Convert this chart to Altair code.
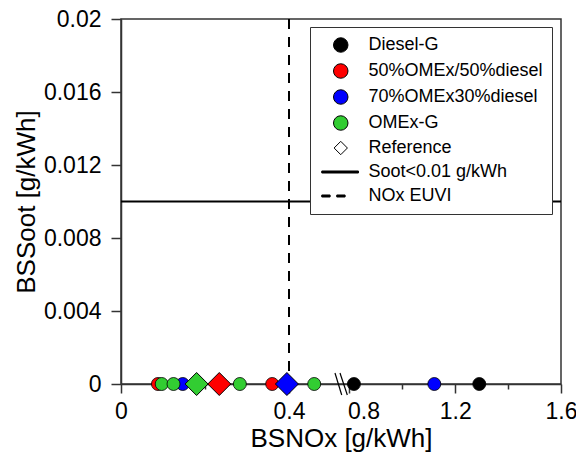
import altair as alt
import pandas as pd

# legend entries, in display order, with their colours and symbol shapes
series_names = ["Diesel-G", "50%OMEx/50%diesel", "70%OMEx30%diesel", "OMEx-G",
                "Reference", "Soot<0.01 g/kWh", "NOx EUVI"]
series_colors = ["#000000", "#ff0000", "#0000ff", "#32cd32", "#ffffff", "#000000", "#000000"]
series_shapes = [
    "circle", "circle", "circle", "circle",
    "M0,-0.92L0.92,0L0,0.92L-0.92,0Z",                                  # hollow diamond
    "M-2.62,-0.14H2.44V0.14H-2.62Z",                                    # solid line
    "M-2.62,-0.14H-1.47V0.14H-2.62ZM-0.55,-0.14H0.6V0.14H-0.55Z",        # dashed line
]

# measured operating points (circles)
pt_fuel = ["Diesel-G", "Diesel-G",
           "50%OMEx/50%diesel", "50%OMEx/50%diesel",
           "70%OMEx30%diesel", "70%OMEx30%diesel",
           "OMEx-G", "OMEx-G", "OMEx-G", "OMEx-G"]
pt_nox = [0.817, 1.291,
          0.088, 0.360,
          0.147, 1.121,
          0.097, 0.125, 0.283, 0.460]
pt_soot = [0.0, 0.0,
           0.0, 0.0,
           0.0, 0.0,
           0.0, 0.0, 0.0, 0.0]

# reference operating points (diamonds)
ref_fuel = ["OMEx-G", "50%OMEx/50%diesel", "70%OMEx30%diesel"]
ref_nox = [0.180, 0.234, 0.395]
ref_soot = [0.0, 0.0, 0.0]

# emission limits
soot_limit = [0.01]
nox_limit = [0.4]

# axis-break marks on the x axis (start / end of each slash)
brk_nox = [0.5095, 0.5214]
brk_nox2 = [0.7708, 0.792]
brk_soot = [0.0006, 0.0006]
brk_soot2 = [-0.0006, -0.0006]

# broken x axis: 0-0.525 on the left part, 0.77-1.6 on the right part
x_domain = [0, 0.525, 0.77, 1.6]
x_range = [0, 220.5, 220.5, 440]
x_ticks = [0, 0.2, 0.4, 0.8, 1.0, 1.2, 1.4, 1.6]
y_ticks = [0, 0.002, 0.004, 0.006, 0.008, 0.01, 0.012, 0.014, 0.016, 0.018, 0.02]

df_pts = pd.DataFrame({"fuel": pt_fuel, "nox": pt_nox, "soot": pt_soot})
df_ref = pd.DataFrame({"fuel": ref_fuel, "nox": ref_nox, "soot": ref_soot})
df_soot = pd.DataFrame({"soot": soot_limit})
df_nox = pd.DataFrame({"nox": nox_limit})
df_brk = pd.DataFrame({"nox": brk_nox, "nox2": brk_nox2, "soot": brk_soot, "soot2": brk_soot2})

FONT = "Liberation Sans"

x_scale = alt.Scale(domain=x_domain, range=x_range, nice=False, zero=False)
y_scale = alt.Scale(domain=[0, 0.02], nice=False)

x_minor = "datum.value == 0.2 || datum.value == 1 || datum.value == 1.4"
y_minor = "round(datum.value * 1000) % 4 != 0"

x_axis = alt.Axis(
    values=x_ticks, format=".1~f", labelFlush=False,
    labelExpr=f"({x_minor}) ? '' : datum.label",
    tickSize=alt.condition(x_minor, alt.value(5), alt.value(9)),
    labelOffset=alt.condition("datum.value == 0.8", alt.value(14), alt.value(0)),
    labelPadding=7, titlePadding=2,
)
y_axis = alt.Axis(
    values=y_ticks, format=".3~f", labelFlush=False,
    labelExpr=f"({y_minor}) ? '' : datum.label",
    tickSize=alt.condition(y_minor, alt.value(5), alt.value(10)),
    labelPadding=10, titlePadding=4,
)

color_scale = alt.Scale(domain=series_names, range=series_colors)
shape_scale = alt.Scale(domain=series_names, range=series_shapes)

legend = alt.Legend(
    title=None, orient="none", legendX=189, legendY=8,
    fillColor="white", strokeColor="#333333", padding=9,
    symbolOffset=12.75, labelOffset=18.75, rowPadding=6,
    labelFont=FONT, labelFontSize=18, labelColor="black", labelLimit=400,
    labelExpr="datum.value == '50%OMEx/50%diesel' ? datum.label + '\u00a0\u00a0' : datum.label",
    symbolSize=210, symbolStrokeColor="black", symbolStrokeWidth=1,
)

soot_rule = alt.Chart(df_soot).mark_rule(color="black", strokeWidth=2).encode(
    y=alt.Y("soot:Q", scale=y_scale, axis=y_axis, title="BSSoot [g/kWh]")
)
nox_rule = alt.Chart(df_nox).mark_rule(color="black", strokeWidth=2, strokeDash=[10, 8]).encode(
    x=alt.X("nox:Q", scale=x_scale, axis=x_axis, title="BSNOx [g/kWh]")
)
breaks = alt.Chart(df_brk).mark_rule(color="black", strokeWidth=1.2).encode(
    x="nox:Q", x2="nox2", y="soot:Q", y2="soot2"
)
points = alt.Chart(df_pts).mark_point(
    filled=True, size=169, opacity=1, stroke="black", strokeWidth=0.8
).encode(
    x="nox:Q", y="soot:Q",
    color=alt.Color("fuel:N", scale=color_scale, legend=legend, title=None),
    shape=alt.Shape("fuel:N", scale=shape_scale, legend=legend, title=None),
)
refs = alt.Chart(df_ref).mark_point(
    filled=True, shape="diamond", size=529, opacity=1, stroke="black", strokeWidth=1
).encode(
    x="nox:Q", y="soot:Q",
    color=alt.Color("fuel:N", scale=color_scale, legend=legend, title=None),
)

chart = (
    alt.layer(soot_rule, nox_rule, breaks, points, refs)
    .properties(
        width=440, height=365,
        autosize=alt.AutoSizeParams(type="none"),
        padding={"left": 121, "top": 19, "right": 15, "bottom": 75},
        background="white",
    )
    .configure_view(stroke="#333333", strokeWidth=1.5)
    .configure_axis(
        grid=False,
        domainColor="#333333", domainWidth=1.5,
        tickColor="#333333", tickWidth=1.5,
        labelFont=FONT, labelFontSize=23, labelColor="black",
        titleFont=FONT, titleFontSize=26, titleFontWeight="normal", titleColor="black",
    )
)

chart.save("out.html", embed_options={"renderer": "svg", "actions": False})
